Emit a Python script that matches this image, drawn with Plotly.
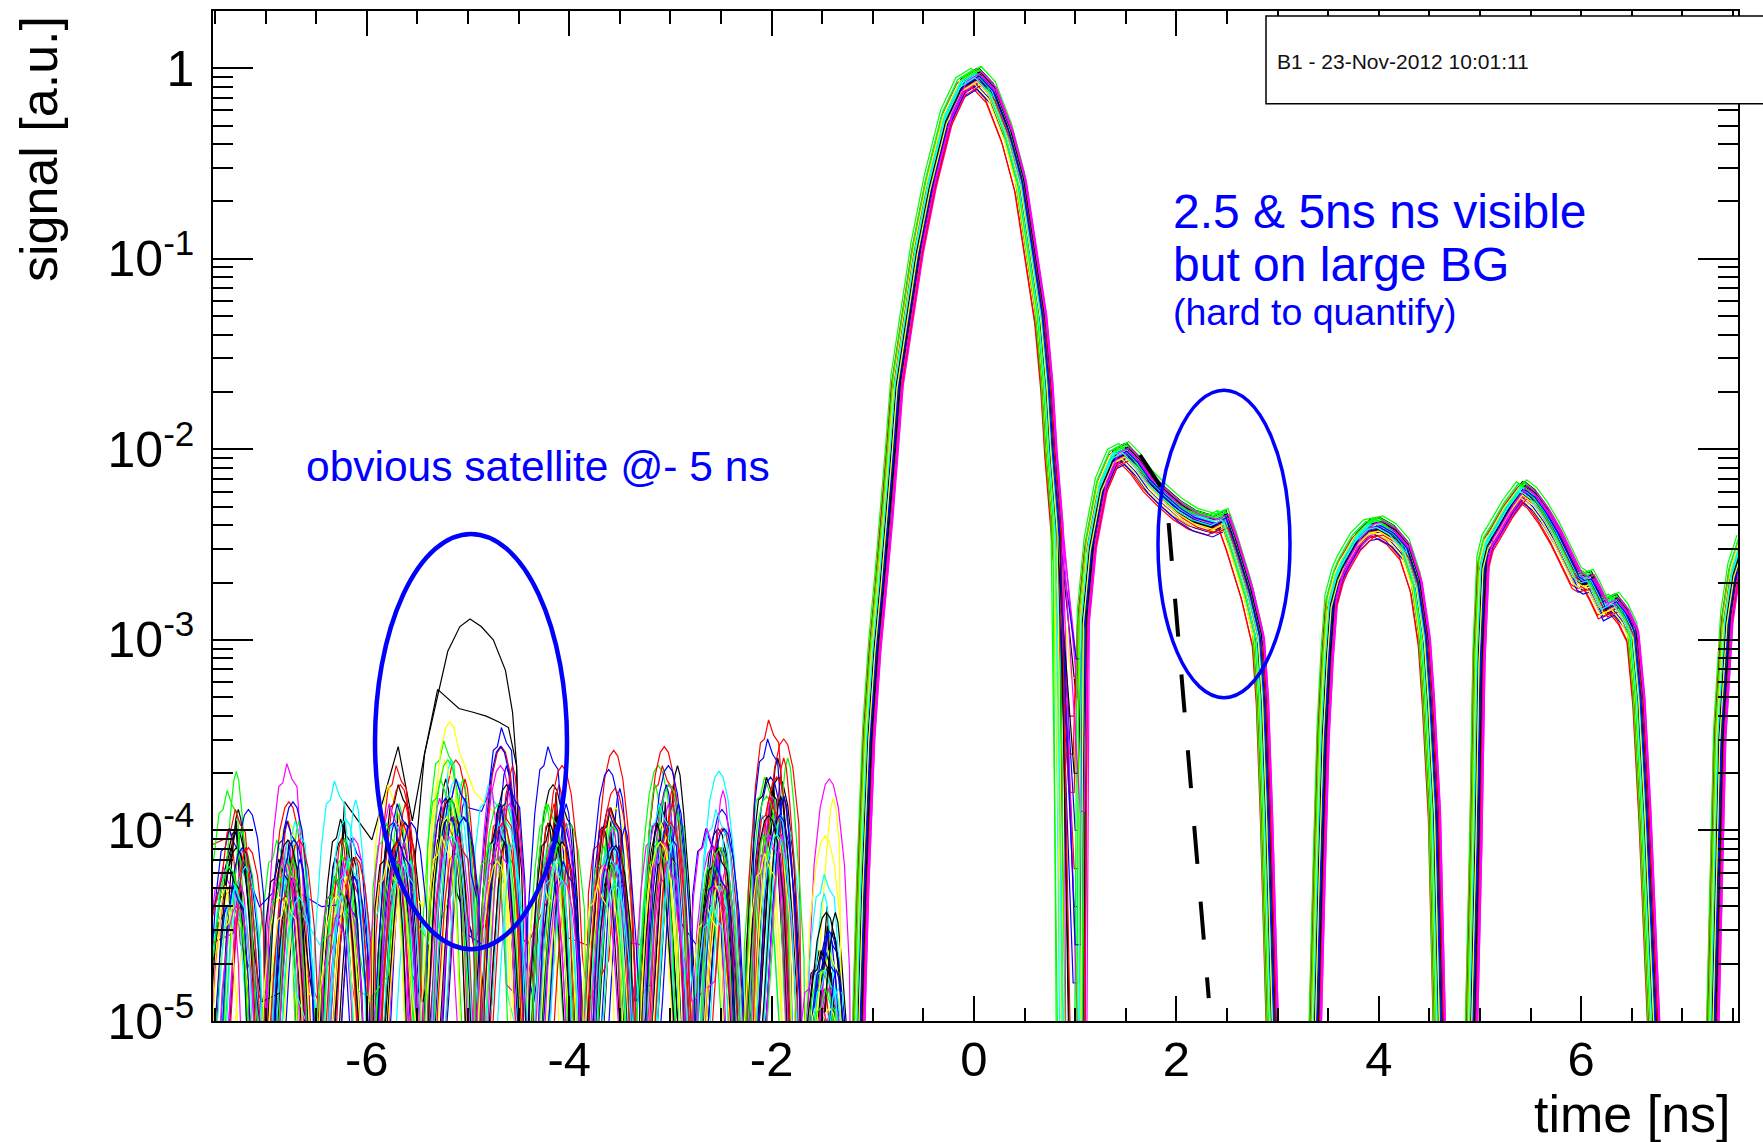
import plotly.graph_objects as go

# ROOT default line colours: kBlack, kRed, kGreen, kBlue, kYellow, kMagenta, kCyan
PALETTE = ["#000000", "#ff0000", "#00ff00", "#0000ff", "#ffff00", "#ff00ff", "#00ffff"]

D = -6.2  # log10 level well under the 1e-5 floor

# ---------------- pre-pulse noise (log10 of signal) ----------------
LOBE_T = [-7.29, -6.77, -6.22, -5.69, -5.16, -4.67, -4.13, -3.59, -3.05, -2.54, -1.98, -1.45]
LOBE_TOP = [-3.69, -3.65, -3.74, -3.56, -3.43, -3.46, -3.56, -3.58, -3.46, -3.69, -3.42, -3.73]
# three lobe profiles seen in the waveforms: rounded, narrow, lopsided
LOBE_SHAPES = [
    ([-0.20, -0.15, -0.09, -0.04, 0.0, 0.04, 0.09, 0.15, 0.20],
     [-1.0, -0.45, -0.15, -0.03, 0.0, -0.03, -0.15, -0.45, -1.0]),
    ([-0.16, -0.11, -0.06, -0.025, 0.0, 0.025, 0.06, 0.11, 0.16],
     [-1.05, -0.6, -0.24, -0.05, 0.0, -0.05, -0.24, -0.6, -1.05]),
    ([-0.20, -0.13, -0.08, -0.04, 0.0, 0.05, 0.10, 0.15, 0.19],
     [-0.9, -0.35, -0.12, -0.10, 0.0, -0.08, -0.12, -0.5, -1.1]),
]
LOBE_JITTER = [0.0, 0.05, -0.04, 0.07, -0.06, 0.02, -0.03, 0.08, -0.05, 0.01, 0.04, -0.08]
TROUGH_T = [-7.62, -7.03, -6.495, -5.955, -5.425, -4.915, -4.40, -3.86, -3.32, -2.795, -2.26, -1.715]

# per-waveform lobe maxima, in tenths of a decade below LOBE_TOP
NOISE_DROP = [
    [3, 5, 2, 4, 3, 6, 2, 5, 4, 3, 2, 9],
    [5, 2, 4, 1, 2, 3, 5, 0, 3, 6, 1, 11],
    [0, 4, 6, 3, 1, 4, 3, 6, 2, 4, 3, 10],
    [2, 6, 3, 5, 4, 0, 4, 2, 5, 2, 4, 8],
    [6, 3, 5, 2, 0, 5, 6, 3, 6, 5, 5, 1],
    [4, 0, 3, 6, 3, 2, 4, 5, 3, 1, 6, 0],
    [5, 4, 0, 4, 2, 3, 5, 4, 6, 0, 5, 5],
    [7, 6, 4, 2, 5, 4, 3, 6, 2, 5, 3, 7],
    [3, 7, 5, 3, 4, 1, 2, 4, 1, 4, 0, 12],
    [4, 3, 6, 5, 3, 6, 4, 3, 4, 6, 2, 9],
    [3, 2, 4, 3, 4, 2, 0, 1, 3, 3, 3, 8],
    [8, 5, 7, 4, 2, 6, 5, 6, 7, 5, 6, 3],
    [6, 4, 5, 7, 4, 5, 6, 4, 5, 4, 4, 10],
    [5, 6, 1, 5, 3, 4, 7, 5, 4, 2, 5, 6],
    [2, 5, 3, 6, 5, 3, 4, 3, 5, 4, 3, 7],
    [4, 3, 5, 2, 3, 4, 1, 5, 2, 3, 2, 11],
    [1, 5, 3, 4, 2, 5, 3, 4, 3, 5, 4, 12],
    [5, 3, 5, 4, 3, 1, 3, 3, 2, 4, 1, 8],
    [7, 6, 6, 5, 4, 7, 5, 7, 5, 6, 7, 9],
    [5, 5, 4, 3, 5, 3, 5, 6, 4, 3, 5, 10],
    [6, 3, 2, 6, 4, 5, 6, 5, 5, 3, 6, 11],
    [4, 6, 5, 5, 6, 5, 5, 4, 6, 6, 4, 9],
    [2, 4, 3, 4, 5, 2, 3, 2, 4, 5, 3, 13],
    [3, 6, 4, 6, 3, 4, 5, 5, 3, 5, 5, 10],
    [4, 5, 6, 4, 5, 3, 4, 4, 5, 3, 4, 9],
    [7, 7, 5, 6, 5, 6, 7, 6, 6, 7, 6, 12],
    [6, 5, 6, 5, 6, 4, 5, 6, 6, 5, 6, 11],
    [5, 6, 4, 7, 5, 5, 6, 6, 4, 6, 5, 10],
    [5, 4, 6, 5, 4, 6, 4, 5, 5, 4, 5, 8],
    [4, 6, 4, 5, 6, 5, 6, 3, 5, 6, 4, 13],
    [5, 5, 5, 6, 4, 6, 5, 6, 6, 4, 6, 11],
    [6, 4, 5, 5, 5, 4, 6, 5, 4, 5, 5, 10],
    [6, 7, 6, 7, 6, 7, 6, 7, 6, 6, 7, 12],
    [7, 6, 7, 6, 6, 6, 7, 6, 7, 6, 6, 12],
    [6, 7, 6, 6, 6, 6, 6, 7, 6, 7, 6, 11],
]

# per-waveform minima between lobes (log10), first entry is the left edge
TROUGH_V = [
    [-4.9, D, D, D, D, -4.6, D, D, D, D, D, D],
    [-4.4, D, D, -5.2, D, D, D, -4.6, D, D, D, D],
    [D, -4.6, D, D, -4.9, D, D, D, -5.2, D, D, D],
    [-4.6, D, -4.4, D, D, -3.9, -4.9, D, D, -4.6, D, D],
    [D, -5.2, D, D, -4.4, -3.8, D, D, D, D, -5.2, D],
    [-5.2, D, -4.9, D, D, D, D, D, -4.6, D, D, D],
    [D, D, D, -4.6, D, D, -5.2, D, D, D, -4.9, D],
    [D, D, -5.2, D, D, -4.9, D, D, D, D, D, D],
    [-4.1, -4.9, D, D, D, D, -4.6, D, D, -5.2, D, D],
    [D, D, D, -4.9, -4.6, D, D, D, D, D, D, D],
    [-4.9, -4.4, D, D, -5.2, -4.6, D, D, -4.9, D, D, D],
    [D, D, D, D, D, D, D, -5.2, D, D, D, D],
    [D, D, D, -5.2, D, D, D, D, D, D, -5.2, D],
    [-5.2, D, -4.6, D, D, -5.2, D, D, D, -4.9, D, D],
    [D, D, D, D, -4.9, D, -5.2, D, D, D, D, D],
    [-4.6, D, -5.2, D, D, D, D, -4.9, D, D, D, D],
    [-4.4, D, D, D, D, -5.2, D, D, -5.2, D, D, D],
    [D, -5.2, D, D, -5.2, -4.4, D, D, D, D, D, D],
    [D, D, -4.9, D, D, D, D, D, D, D, D, D],
    [-5.2, D, D, D, D, D, -4.9, D, D, D, D, D],
    [D, D, D, D, -4.6, D, D, D, D, -5.2, D, D],
    [D, -4.9, D, D, D, D, D, D, -5.2, D, D, D],
    [-4.6, D, D, D, D, D, D, D, D, D, D, D],
    [D, D, D, -4.9, D, D, D, -5.2, D, D, D, D],
    [D, D, D, D, D, -4.6, D, D, D, D, D, D],
    [D, D, D, D, D, D, D, D, D, D, D, D],
    [D, D, D, D, D, D, D, D, D, -4.9, D, D],
    [D, D, -5.2, D, D, D, D, D, D, D, D, D],
    [D, D, D, D, D, D, -5.2, D, D, D, D, D],
    [D, D, D, D, D, D, D, D, D, D, D, D],
    [-4.9, D, D, D, D, D, D, D, D, D, D, D],
    [D, D, D, D, D, D, D, D, D, D, D, D],
    [D, D, D, D, -5.2, D, D, D, D, D, D, D],
    [D, D, D, D, D, D, D, D, D, D, D, D],
    [D, D, D, D, D, D, D, D, D, D, D, D],
]

NOISE_DT = [0.00, 0.03, -0.04, 0.05, -0.02, 0.02, -0.05, 0.04, -0.01, 0.06,
            -0.03, 0.01, -0.06, 0.03, -0.02, 0.05, -0.04, 0.02, 0.00, -0.05,
            0.04, -0.01, 0.03, -0.03, 0.06, -0.06, 0.01, 0.02, -0.02, 0.04,
            -0.04, 0.05, -0.05, 0.00, 0.03]

# ---------------- main bunch and trailing structure (log10) ----------------
PULSE_T = [-1.26, -1.16, -1.14, -1.10, -1.04, -0.98, -0.92, -0.86, -0.81, -0.76,
           -0.66, -0.56, -0.43, -0.27, -0.12, 0.03, 0.17, 0.33, 0.46, 0.56,
           0.66, 0.72, 0.76, 0.82]
PULSE_V = [-6.5, -5.6, -5.0, -4.26, -3.46, -3.0, -2.66, -2.3, -1.96, -1.61,
           -1.26, -0.91, -0.56, -0.22, -0.05, 0.0, -0.08, -0.30, -0.56, -0.91,
           -1.26, -1.61, -1.96, -2.35]
DIP_HOLD_T = 1.04
TAIL_T = [1.08, 1.15, 1.26, 1.38, 1.49, 1.60, 1.72, 1.87, 2.02, 2.17, 2.36, 2.47, 2.55, 2.70, 2.81, 2.85, 2.89, 2.95, 3.00,
          3.30, 3.37, 3.41, 3.45, 3.49, 3.53, 3.60, 3.65, 3.78, 3.91, 4.00, 4.13, 4.26, 4.37, 4.45, 4.49, 4.55, 4.60, 4.66,
          4.85, 4.92, 4.96, 4.99, 5.03, 5.08, 5.15, 5.28, 5.42, 5.52, 5.63, 5.75, 5.85, 5.96, 6.02, 6.08, 6.14, 6.22, 6.33,
          6.42, 6.51, 6.57, 6.63, 6.68, 6.72, 6.78,
          7.22, 7.30, 7.37, 7.44, 7.51, 7.60]
TAIL_V = [-2.85, -2.46, -2.15, -2.0, -1.97, -2.03, -2.12, -2.20, -2.27, -2.32, -2.35, -2.32, -2.44, -2.70, -2.95, -3.26, -3.86, -5.0, -6.5,
          -6.5, -5.0, -4.2, -3.46, -3.05, -2.76, -2.62, -2.56, -2.44, -2.37, -2.36, -2.40, -2.48, -2.66, -2.95, -3.26, -3.86, -5.0, -6.5,
          -6.5, -5.0, -4.0, -3.06, -2.56, -2.45, -2.39, -2.27, -2.17, -2.21, -2.29, -2.40, -2.51, -2.63, -2.65, -2.64, -2.70, -2.79, -2.76,
          -2.82, -2.92, -3.26, -3.86, -4.5, -5.0, -6.5,
          -6.5, -5.0, -3.46, -2.85, -2.60, -2.45]

GAIN = [0.0, -0.03, 0.01, -0.05, -0.02, -0.04, -0.01, -0.06, -0.08, 0.0,
        -0.09, -0.03, -0.05, -0.02, -0.07, -0.1, -0.01, -0.11, -0.04, -0.06,
        -0.03, -0.02, -0.07, 0.0, -0.05, -0.08, -0.04, -0.03, -0.06, -0.09,
        -0.01, -0.04, -0.07, -0.02, -0.05]
SHIFT = [0.02, -0.05, 0.04, 0.0, -0.02, 0.06, -0.04, 0.03, -0.06, 0.01,
         0.0, -0.03, 0.05, -0.01, 0.04, -0.05, 0.02, 0.0, -0.04, 0.06,
         -0.02, 0.03, 0.0, -0.06, 0.01, -0.03, 0.05, 0.0, -0.01, 0.04,
         -0.04, 0.02, 0.0, 0.05, -0.02]
DIP_T = [0.90, 0.99, 0.94, 1.00, 0.98, 0.86, 0.92, 0.96, 1.00, 0.88,
         0.99, 0.93, 1.00, 0.95, 0.84, 0.99, 0.91, 0.98, 0.97, 1.00,
         0.89, 0.95, 0.99, 0.92, 1.00, 0.94, 0.97, 0.90, 1.00, 0.96,
         0.87, 0.98, 0.93, 1.00, 0.95]
DIP_V = [-6.5, -3.4, -6.5, -4.0, -3.2, -6.5, -5.5, -6.5, -3.6, -6.5,
         -4.4, -6.5, -3.3, -6.5, -6.5, -3.8, -6.5, -4.8, -6.5, -3.5,
         -6.5, -6.5, -4.2, -6.5, -3.1, -6.5, -5.0, -6.5, -3.7, -6.5,
         -6.5, -4.6, -6.5, -3.9, -6.5]

# ---------------- the two waveforms carrying the -5 ns satellite ----------------
SAT_A_T = [-7.62, -7.29, -7.02, -6.77, -6.50, -6.22, -5.95, -5.69, -5.55, -5.43, -5.20, -5.08, -4.98, -4.87,
           -4.75, -4.63, -4.56, -4.52, -4.42, -4.13, -3.86, -3.59, -3.32, -3.05, -2.80, -2.54, -2.26, -1.98,
           -1.72, -1.45]
SAT_A_V = [-4.6, -4.0, -6.2, -4.1, -6.0, -3.95, -6.2, -3.9, -4.3, -3.60, -3.06, -2.93, -2.89, -2.93,
           -3.00, -3.16, -3.38, -3.66, -6.2, -3.9, -6.3, -4.0, -6.2, -3.9, -6.2, -4.1, -6.2, -3.8,
           -6.2, -4.5]
SAT_B_T = [-7.62, -7.29, -7.02, -6.77, -6.50, -6.22, -5.95, -5.69, -5.55, -5.43, -5.30, -5.20, -5.09, -4.95,
           -4.82, -4.70, -4.60, -4.52, -4.40, -4.13, -3.86, -3.59, -3.32, -3.05, -2.80, -2.54, -2.26, -1.98,
           -1.72, -1.45]
SAT_B_V = [-5.0, -3.95, -6.0, -4.05, -6.2, -3.85, -4.05, -3.56, -3.95, -3.60, -3.26, -3.31, -3.36, -3.38,
           -3.40, -3.43, -3.46, -3.66, -6.2, -3.8, -6.1, -3.95, -6.2, -3.85, -6.2, -4.0, -6.2, -3.75,
           -6.2, -4.4]
SAT_GAIN = [0.0, -0.02]
SAT_SHIFT = [0.0, 0.01]
SAT_DIP_T = [0.93, 1.00]
SAT_DIP_V = [-6.5, -3.3]

# dashed tail drawn under the 2.5 ns shoulder (log10)
FIT_T = [1.64, 1.90, 2.32]
FIT_V = [-2.03, -2.24, -4.88]

X_TICKS = [-6, -4, -2, 0, 2, 4, 6]
X_TICK_TEXT = ["-6", "-4", "-2", "0", "2", "4", "6"]
Y_TICKS = [1e-5, 1e-4, 1e-3, 1e-2, 1e-1, 1]
Y_TICK_TEXT = ["10<sup>-5</sup>", "10<sup>-4</sup>", "10<sup>-3</sup>",
               "10<sup>-2</sup>", "10<sup>-1</sup>", "1"]


def noise_points(k):
    dt = NOISE_DT[k]
    n = len(LOBE_T)
    ts = [TROUGH_T[0] + dt]
    vs = [TROUGH_V[k][0]]
    for j in range(n):
        peak = LOBE_TOP[j] - 0.1 * NOISE_DROP[k][j]
        jit = LOBE_JITTER[(j + 5 * k) % n]
        shape_dt, shape_dv = LOBE_SHAPES[(j + 2 * k) % len(LOBE_SHAPES)]
        left_v = TROUGH_V[k][j]
        left_t = TROUGH_T[j] + dt
        if j + 1 < n:
            right_v, right_t = TROUGH_V[k][j + 1], TROUGH_T[j + 1] + dt
        else:
            right_v, right_t = PULSE_V[0], LOBE_T[j] + 1.0
        for ddt, ddv in zip(shape_dt, shape_dv):
            t = LOBE_T[j] + ddt + dt + jit
            v = peak + ddv
            floor = left_v if ddt < 0 else right_v
            if left_t < t < right_t and (v >= floor or ddt == 0):
                ts.append(t)
                vs.append(v)
        if j + 1 < n:
            ts.append(right_t)
            vs.append(right_v)
    return ts, vs


def pulse_points(gain, shift, dip_t, dip_v):
    ts = [t + shift for t in PULSE_T] + [dip_t + shift, DIP_HOLD_T + shift] + [t + shift for t in TAIL_T]
    vs = [v + gain for v in PULSE_V] + [dip_v, dip_v] + [v + gain for v in TAIL_V]
    return ts, vs


def join(nt, nv, pt, pv):
    keep = [i for i, t in enumerate(nt) if t < pt[0]]
    ts = [nt[i] for i in keep] + pt
    vs = [nv[i] for i in keep] + pv
    return ts, [10.0 ** v for v in vs]


fig = go.Figure()

sat_noise = [(SAT_A_T, SAT_A_V), (SAT_B_T, SAT_B_V)]
for s, (nt, nv) in enumerate(sat_noise):
    pt, pv = pulse_points(SAT_GAIN[s], SAT_SHIFT[s], SAT_DIP_T[s], SAT_DIP_V[s])
    x, y = join(nt, nv, pt, pv)
    fig.add_trace(go.Scatter(x=x, y=y, mode="lines", line=dict(color="#000000", width=1.2),
                             hoverinfo="skip"))

for k in range(len(GAIN)):
    nt, nv = noise_points(k)
    pt, pv = pulse_points(GAIN[k], SHIFT[k], DIP_T[k], DIP_V[k])
    x, y = join(nt, nv, pt, pv)
    fig.add_trace(go.Scatter(x=x, y=y, mode="lines",
                             line=dict(color=PALETTE[k % len(PALETTE)], width=1.2),
                             hoverinfo="skip"))

fig.add_trace(go.Scatter(x=FIT_T, y=[10.0 ** v for v in FIT_V], mode="lines",
                         line=dict(color="#000000", width=4, dash="38px,38px"),
                         hoverinfo="skip"))

# plot frame in pixels
L, R, T, B = 213, 1738, 9, 1021


def px(xp):
    return (xp - L) / (R - L)


def py(yp):
    return (B - yp) / (B - T)


FONT = "Liberation Sans, Arial, Helvetica, sans-serif"
BLUE = "#0000ff"

shapes = [
    dict(type="circle", xref="paper", yref="paper", x0=px(375), x1=px(567), y0=py(949), y1=py(533),
         line=dict(color=BLUE, width=4.5), layer="above"),
    dict(type="circle", xref="paper", yref="paper", x0=px(1158), x1=px(1290), y0=py(697), y1=py(389),
         line=dict(color=BLUE, width=3.5), layer="above"),
    dict(type="rect", xref="paper", yref="paper", x0=px(1266), x1=px(1790), y0=py(102), y1=py(14),
         fillcolor="white", line=dict(color="black", width=1.5), layer="above"),
]

annotations = [
    dict(text="B1 - 23-Nov-2012 10:01:11", x=px(1275), y=py(60), xanchor="left", yanchor="middle",
         font=dict(family=FONT, size=21, color="#111111")),
    dict(text="2.5 &amp; 5ns ns visible", x=px(1171), y=py(210), xanchor="left", yanchor="middle",
         font=dict(family=FONT, size=48, color=BLUE)),
    dict(text="but on large BG", x=px(1171), y=py(263), xanchor="left", yanchor="middle",
         font=dict(family=FONT, size=48, color=BLUE)),
    dict(text="(hard to quantify)", x=px(1171), y=py(311), xanchor="left", yanchor="middle",
         font=dict(family=FONT, size=37.5, color=BLUE)),
    dict(text="obvious satellite @- 5 ns", x=px(304), y=py(465), xanchor="left", yanchor="middle",
         font=dict(family=FONT, size=42.5, color=BLUE)),
    dict(text="signal [a.u.]", textangle=-90, x=px(39), y=py(12), xanchor="center", yanchor="top",
         font=dict(family=FONT, size=52, color="black")),
    dict(text="time [ns]", x=px(1733), y=py(1114), xanchor="right", yanchor="middle",
         font=dict(family=FONT, size=52, color="black")),
]
for a in annotations:
    a.update(xref="paper", yref="paper", showarrow=False)

fig.update_layout(
    width=1763, height=1142,
    margin=dict(l=L, r=1763 - R, t=T, b=1142 - B),
    paper_bgcolor="white", plot_bgcolor="white",
    showlegend=False,
    font=dict(family=FONT, color="black"),
    shapes=shapes,
    annotations=annotations,
)

fig.update_xaxes(
    range=[-7.52, 7.55], showgrid=False, zeroline=False,
    showline=True, linecolor="black", linewidth=1.5, mirror="ticks",
    ticks="inside", ticklen=25, tickwidth=1.5, tickcolor="black",
    tickmode="array", tickvals=X_TICKS, ticktext=X_TICK_TEXT,
    tickfont=dict(family=FONT, size=49, color="black"), ticklabelstandoff=-6,
    minor=dict(ticks="inside", ticklen=13, tickwidth=1.5, tickcolor="black",
               tick0=0, dtick=0.5, showgrid=False),
)
fig.update_yaxes(
    type="log", range=[-5, 0.3], showgrid=False, zeroline=False,
    showline=True, linecolor="black", linewidth=1.5, mirror="ticks",
    ticks="inside", ticklen=40, tickwidth=1.5, tickcolor="black",
    tickmode="array", tickvals=Y_TICKS, ticktext=Y_TICK_TEXT,
    tickfont=dict(family=FONT, size=50, color="black"), ticklabelstandoff=7,
    minor=dict(ticks="inside", ticklen=20, tickwidth=1.5, tickcolor="black",
               dtick="D1", showgrid=False),
)

fig.write_html("out.html")
